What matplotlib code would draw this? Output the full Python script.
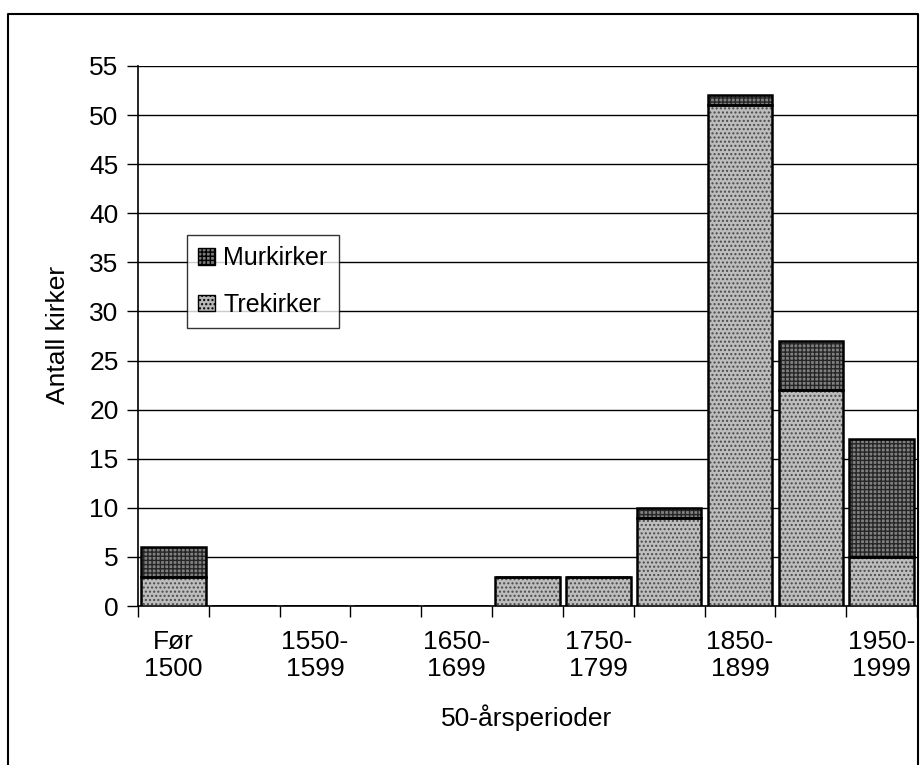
import matplotlib.pyplot as plt
import matplotlib as mpl
import numpy as np
from matplotlib.patches import Patch

mpl.rcParams['font.family'] = ['Liberation Sans', 'DejaVu Sans']
mpl.rcParams['hatch.linewidth'] = 1.0

perioder = ['Før\n1500', '1500-\n1549', '1550-\n1599', '1600-\n1649', '1650-\n1699',
            '1700-\n1749', '1750-\n1799', '1800-\n1849', '1850-\n1899', '1900-\n1949',
            '1950-\n1999']
trekirker = [3, 0, 0, 0, 0, 3, 3, 9, 51, 22, 5]
murkirker = [3, 0, 0, 0, 0, 0, 0, 1, 1, 5, 12]

fs = 19
fig = plt.figure(figsize=(9.23, 7.65), dpi=100)
ax = fig.add_axes([138/923, 1-606/765, (917-138)/923, (606-66)/765])

x = np.arange(len(perioder))
tre = np.array(trekirker)
mur = np.array(murkirker)
w = 0.91

# fill with pattern (hatch colour follows edgecolor), then black outline on top
ax.bar(x, tre, w, color='#bdbdbd', edgecolor='#4a4a4a', hatch='....', linewidth=0, zorder=3)
ax.bar(x, mur, w, bottom=tre, color='#808080', edgecolor='#262626', hatch='++++',
       linewidth=0, zorder=3)
ax.bar(x, tre, w, facecolor='none', edgecolor='black', linewidth=1.8, zorder=4)
ax.bar(x, mur, w, bottom=tre, facecolor='none', edgecolor='black', linewidth=1.8, zorder=4)

# legend
h_mur = Patch(facecolor='#7a7a7a', edgecolor='black', hatch='++++', label='Murkirker')
h_tre = Patch(facecolor='#b8b8b8', edgecolor='black', hatch='....', label='Trekirker')
leg = ax.legend(handles=[h_mur, h_tre], loc='upper left',
                bbox_to_anchor=((187-138)/779, (606-235)/540),
                fontsize=18, frameon=True, fancybox=False, edgecolor='black',
                handlelength=0.65, handleheight=0.65, handletextpad=0.35,
                labelspacing=0.9, borderpad=0.45, borderaxespad=0)
leg.get_frame().set_linewidth(1.0)
leg.set_zorder(5)

ax.set_xlim(-0.5, 10.5)
ax.set_ylim(0, 55)
ax.set_yticks(np.arange(0, 56, 5))
ax.yaxis.grid(True, color='black', linewidth=1.0, zorder=0)
ax.set_axisbelow(True)

ax.set_xticks(x[::2])
ax.set_xticklabels(perioder[::2])
ax.set_xticks(np.arange(-0.5, 11, 1), minor=True)
ax.tick_params(axis='x', which='major', length=0, pad=17, labelsize=fs)
ax.tick_params(axis='x', which='minor', length=8, width=1, direction='out')
ax.tick_params(axis='y', length=8, width=1, direction='out', labelsize=fs, pad=6)

for s in ['top', 'right']:
    ax.spines[s].set_visible(False)
for s in ['left', 'bottom']:
    ax.spines[s].set_linewidth(1.2)

ax.set_xlabel('50-årsperioder', fontsize=fs)
ax.set_ylabel('Antall kirker', fontsize=fs)
ax.xaxis.set_label_coords((527-138)/779, -(718-606)/540)
ax.xaxis.label.set_va('center')
ax.yaxis.set_label_coords((58-138)/779, (606-335)/540)
ax.yaxis.label.set_va('center')

# outer chart frame
fig.add_artist(plt.Line2D([8/923, 8/923, 918/923, 918/923], [0, 1-14/765, 1-14/765, 0],
                          transform=fig.transFigure, color='black', linewidth=1.5))

fig.savefig('out.png', dpi=100)
